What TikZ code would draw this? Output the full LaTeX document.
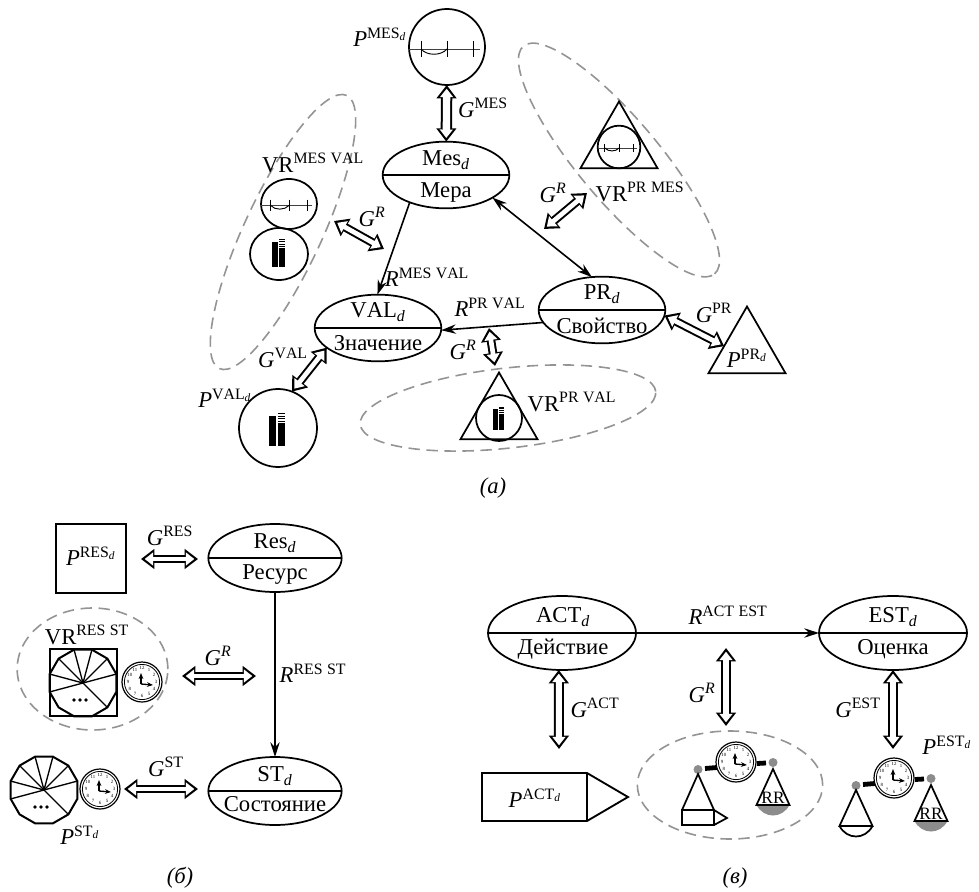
\documentclass[tikz,border=0pt]{standalone}
\usepackage{fontspec}
\setmainfont{Liberation Serif}
\usepackage{tikz}
\usetikzlibrary{arrows.meta}
\usetikzlibrary{shapes.geometric}

\tikzset{
  ent/.style = {draw, line width=1.3pt, inner sep=0, outer sep=0},
  ell/.style = {ent, ellipse, minimum width=95pt, minimum height=50pt},
  vague/.style = {draw=black!42, line width=1.2pt, dash pattern=on 8.5pt off 5pt, ellipse, inner sep=0, outer sep=0},
  tri/.style = {ent, regular polygon, regular polygon sides=3, minimum size=66.75pt},
  txt/.style = {inner sep=0, font=\fontsize{17}{20}\selectfont},
  rel/.style = {line width=1.2pt, -{Stealth[length=11pt,width=7pt]}},
  relboth/.style = {line width=1.2pt, {Stealth[length=11pt,width=7pt]}-{Stealth[length=11pt,width=7pt]}},
  garrow/.style = {white, line width=#1-3pt, shorten >=2.8pt, shorten <=2.8pt,
    {Triangle[length=6.3pt,width=9.5pt]}-{Triangle[length=6.3pt,width=9.5pt]},
    preaction={draw=black, line width=#1, shorten >=0pt, shorten <=0pt,
      {Triangle[length=10pt,width=14.5pt]}-{Triangle[length=10pt,width=14.5pt]}}},
  garrow/.default = 6.5pt,
  rulerbar/.pic = {
    \draw[line width=.7pt, black!75] (-39,2) -- (33,2);
    \foreach \t in {-26,0,26} {\draw[line width=.7pt] (\t,-6) -- (\t,10);}
    \draw[line width=.7pt] (-26,2) .. controls (-20,9) and (-6,9) .. (0,2);
  },
  bookpair/.pic = {
    \fill (-8.7,-12) rectangle (-1.7,18);
    \fill (0,-5) rectangle (7.3,18);
    \foreach \t in {-15,-12.5,-10,-7.5} {\fill (0,\t) rectangle (7.3,\t+1.3);}
  },
  polydial/.pic = {
    \draw[line width=1.5pt] (15:34.5) \foreach \a in {45,75,...,345} {-- (\a:34.5)} -- cycle;
    \foreach \a in {-15,-45,-75,-105,-135,-165,-195,45} {\draw[line width=1pt] (0,0) -- (\a:34.5);}
    \foreach \t in {-6,0,6} {\fill (\t-3,17) circle[radius=1.8];}
  },
  clockface/.pic = {
    \draw[fill=white, line width=.9pt] (0,0) circle[radius=20];
    \draw[line width=.6pt] (0,0) circle[radius=17.6];
    \foreach \i in {1,...,12} {
      \pgfmathsetmacro{\ang}{30*\i-90}
      \node[inner sep=0, font=\fontsize{3.6}{4}\selectfont] (-n\i) at (\ang:14) {\i};
    }
    \draw[line width=1pt, -{Stealth[length=4.5pt,width=3.5pt]}] (-1,2) -- (-1,-9);
    \draw[line width=1pt, -{Stealth[length=4.5pt,width=3.5pt]}] (-1,2) -- (11,3);
  },
  balance/.pic = {
    \draw[line width=3.6pt] (-31,6.5) -- (-19,5.5);
    \draw[line width=3.6pt] (21,1.5) -- (30,1);
    \fill[black!45] (-38,7.5) circle[radius=4.5];
    \fill[black!45] (37,0.5) circle[radius=4.5];
    \pic (-dial) at (0,0) {clockface};
  },
  fullpan/.pic = {
    \fill[black!45] (-16.5,36) .. controls (-9,50) and (9,50) .. (16.5,36) -- cycle;
    \draw[line width=1.3pt] (-16.5,36) -- (0,0) -- (16.5,36) -- cycle;
    \node[inner sep=0, font=\fontsize{13}{15}\selectfont] (-rr) at (0,29) {RR};
  },
  emptypan/.pic = {
    \draw[line width=1.3pt] (-16.5,36) -- (0,0) -- (16.5,36) -- cycle;
    \draw[line width=1.3pt] (-16.5,36) .. controls (-9,50) and (9,50) .. (16.5,36);
  },
}

\begin{document}
\begin{tikzpicture}[x=0.75pt, y=-0.75pt]
  \useasboundingbox (0,0) rectangle (979,892);

  % draw the dashed groups
  \node[vague, rotate=65, minimum width=226pt, minimum height=58pt] (vr_mes_val) at (283,232) {};
  \node[vague, rotate=-50, minimum width=223pt, minimum height=61pt] (vr_pr_mes) at (619,160) {};
  \node[vague, rotate=6.4, minimum width=223pt, minimum height=60pt] (vr_pr_val) at (508,408) {};
  \node[vague, minimum width=113pt, minimum height=91.5pt] (vr_res_st) at (92.5,669) {};
  \node[vague, minimum width=139pt, minimum height=81pt] (vr_act_est) at (730,785) {};

  % draw the entities of (a)
  \node[ell] (mes) at (446,175) {};
  \draw[line width=.8pt] (mes.west) -- (mes.east);
  \node[txt] (mes_top) at (446,160) {$\mathrm{Mes}_{\mathit{d}}$};
  \node[txt] (mes_bot) at (446,192) {Мера};

  \node[ell] (val) at (378,328) {};
  \draw[line width=.8pt] (val.west) -- (val.east);
  \node[txt] (val_top) at (378,312) {$\mathrm{VAL}_{\mathit{d}}$};
  \node[txt] (val_bot) at (378,343) {Значение};

  \node[ell] (pr) at (602,310) {};
  \draw[line width=.8pt] (pr.west) -- (pr.east);
  \node[txt] (pr_top) at (602,294) {$\mathrm{PR}_{\mathit{d}}$};
  \node[txt] (pr_bot) at (602,326) {Свойство};

  % draw the parts of (a)
  \node[ent, circle, minimum size=57pt] (p_mes) at (447,47) {};
  \pic (ruler_a) at (447,47) {rulerbar};
  \node[ent, circle, minimum size=58.5pt] (p_val) at (278,428) {};
  \pic (books_a) at (278,428) {bookpair};
  \node[tri] (p_pr) at (747,351) {};
  \node[ent, ellipse, minimum width=42pt, minimum height=37.5pt] (vr_mes) at (289,204) {};
  \pic[scale=.71] (ruler_b) at (289,204) {rulerbar};
  \node[ent, ellipse, minimum width=43.5pt, minimum height=39pt] (vr_val) at (279,254) {};
  \pic[scale=.85] (books_b) at (279,252) {bookpair};
  \node[tri] (tri_mes) at (619,146) {};
  \node[ent, circle, minimum size=32pt] (tri_mes_in) at (619,147) {};
  \pic[scale=.54] (ruler_c) at (619,147) {rulerbar};
  \node[tri] (tri_val) at (499,417) {};
  \node[ent, circle, minimum size=34.5pt] (tri_val_in) at (499,418) {};
  \pic[scale=.7] (books_c) at (499,417) {bookpair};

  % draw the arrows of (a)
  \draw[rel] (mes.217) -- (val.91);
  \draw[relboth] (mes.334) -- (pr.107);
  \draw[rel] (pr.192) -- (val.358);
  \draw[garrow=8.5pt] (p_mes) -- (mes);
  \draw[garrow] (val.201) -- (p_val.69);
  \draw[garrow] (pr.355) -- (p_pr.168);
  \coordinate (gr_left_a) at (334,221);
  \coordinate (gr_left_b) at (384,249);
  \draw[garrow] (gr_left_a) -- (gr_left_b);
  \coordinate (gr_right_a) at (587,193);
  \coordinate (gr_right_b) at (544,229);
  \draw[garrow] (gr_right_a) -- (gr_right_b);
  \coordinate (gr_low_a) at (489,328);
  \coordinate (gr_low_b) at (495,366);
  \draw[garrow] (gr_low_a) -- (gr_low_b);

  % draw the labels of (a)
  \node[txt] (lab_p_mes) at (380,37) {$\mathit{P}^{\mathrm{MES}_{\mathit{d}}}$};
  \node[txt] (lab_g_mes) at (483,108) {$\mathit{G}^{\mathrm{MES}}$};
  \node[txt] (lab_vr_mv) at (313,163) {$\mathrm{VR}^{\mathrm{MES\;VAL}}$};
  \node[txt] (lab_gr_l) at (372,217) {$\mathit{G}^{\mathit{R}}$};
  \node[txt] (lab_r_mv) at (427,277) {$\mathit{R}^{\mathrm{MES\;VAL}}$};
  \node[txt] (lab_r_pv) at (490,307) {$\mathit{R}^{\mathrm{PR\;VAL}}$};
  \node[txt] (lab_gr_d) at (463,350) {$\mathit{G}^{\mathit{R}}$};
  \node[txt] (lab_g_val) at (283,358) {$\mathit{G}^{\mathrm{VAL}}$};
  \node[txt] (lab_p_val) at (225,398) {$\mathit{P}^{\mathrm{VAL}_{\mathit{d}}}$};
  \node[txt] (lab_vr_pv) at (572,402) {$\mathrm{VR}^{\mathrm{PR\;VAL}}$};
  \node[txt] (lab_gr_r) at (553,193) {$\mathit{G}^{\mathit{R}}$};
  \node[txt] (lab_vr_pm) at (640,192) {$\mathrm{VR}^{\mathrm{PR\;MES}}$};
  \node[txt] (lab_g_pr) at (714,313) {$\mathit{G}^{\mathrm{PR}}$};
  \node[txt] (lab_p_pr) at (747,358) {$\mathit{P}^{\mathrm{PR}_{\mathit{d}}}$};
  \node[txt] (cap_a) at (493,488) {\textit{(а)}};

  % draw (б)
  \node[ell, minimum width=100pt, minimum height=51pt] (res) at (275,558) {};
  \draw[line width=.8pt] (res.west) -- (res.east);
  \node[txt] (res_top) at (275,543) {$\mathrm{Res}_{\mathit{d}}$};
  \node[txt] (res_bot) at (275,575) {Ресурс};
  \node[ell, minimum width=100pt, minimum height=51pt] (st) at (275,791) {};
  \draw[line width=.8pt] (st.west) -- (st.east);
  \node[txt] (st_top) at (275,776) {$\mathrm{ST}_{\mathit{d}}$};
  \node[txt] (st_bot) at (275,804) {Состояние};

  \node[ent, minimum size=52pt] (p_res) at (91,558.5) {};
  \node[txt] (lab_p_res) at (91,556) {$\mathit{P}^{\mathrm{RES}_{\mathit{d}}}$};
  \node[ent, minimum size=50pt] (square_st) at (83.5,682.5) {};
  \pic (poly_a) at (83,683) {polydial};
  \pic (clock_a) at (142,682) {clockface};
  \pic (poly_b) at (44,790) {polydial};
  \pic (clock_b) at (100,789) {clockface};

  \draw[rel] (res.south) -- (st.north);
  \coordinate (gres_a) at (141,559);
  \coordinate (gres_b) at (198,559);
  \draw[garrow] (gres_a) -- (gres_b);
  \coordinate (grb_a) at (182,676);
  \coordinate (grb_b) at (256,676);
  \draw[garrow] (grb_a) -- (grb_b);
  \coordinate (gst_a) at (124,789);
  \coordinate (gst_b) at (198,789);
  \draw[garrow] (gst_a) -- (gst_b);

  \node[txt] (lab_g_res) at (170,536) {$\mathit{G}^{\mathrm{RES}}$};
  \node[txt] (lab_vr_rs) at (87,635) {$\mathrm{VR}^{\mathrm{RES\;ST}}$};
  \node[txt] (lab_gr_b) at (218,656) {$\mathit{G}^{\mathit{R}}$};
  \node[txt] (lab_r_rs) at (313,673) {$\mathit{R}^{\mathrm{RES\;ST}}$};
  \node[txt] (lab_g_st) at (166,767) {$\mathit{G}^{\mathrm{ST}}$};
  \node[txt] (lab_p_st) at (80,835) {$\mathit{P}^{\mathrm{ST}_{\mathit{d}}}$};
  \node[txt] (cap_b) at (180,878) {\textit{(б)}};

  % draw (в)
  \node[ell, minimum width=111pt, minimum height=55.5pt] (act) at (562,633) {};
  \draw[line width=.8pt] (act.west) -- (act.east);
  \node[txt] (act_top) at (563,617) {$\mathrm{ACT}_{\mathit{d}}$};
  \node[txt] (act_bot) at (563,649) {Действие};
  \node[ell, minimum width=111pt, minimum height=55.5pt] (est) at (893,633) {};
  \draw[line width=.8pt] (est.west) -- (est.east);
  \node[txt] (est_top) at (893,617) {$\mathrm{EST}_{\mathit{d}}$};
  \node[txt] (est_bot) at (893,649) {Оценка};

  \draw[line width=1.4pt] (482,773) -- (587,773) -- (628,797) -- (587,821) -- (482,821) -- cycle;
  \draw[line width=1.4pt] (587,773) -- (587,821);
  \node[txt] (lab_p_act) at (535,798) {$\mathit{P}^{\mathrm{ACT}_{\mathit{d}}}$};

  \pic (bal_a) at (736,762) {balance};
  \pic (pan_b) at (773,769) {fullpan};
  \draw[line width=1.3pt] (682,810) -- (698,774) -- (714,810);
  \draw[line width=1.3pt] (682,810) rectangle (714,825);
  \draw[line width=1.3pt] (714,810) -- (727,818) -- (714,825);

  \pic (bal_b) at (894,778) {balance};
  \pic (pan_c) at (856,790) {emptypan};
  \pic (pan_d) at (931,785) {fullpan};

  \draw[rel] (act.east) -- (est.west);
  \coordinate (gact_b) at (559,749);
  \draw[garrow=7.5pt] (act.265) -- (gact_b);
  \coordinate (gest_b) at (893,749);
  \draw[garrow=7.5pt] (est.south) -- (gest_b);
  \coordinate (grv_a) at (726,648);
  \coordinate (grv_b) at (726,726);
  \draw[garrow=7.5pt] (grv_a) -- (grv_b);

  \node[txt] (lab_r_ae) at (728,615) {$\mathit{R}^{\mathrm{ACT\;EST}}$};
  \node[txt] (lab_g_act) at (595,708) {$\mathit{G}^{\mathrm{ACT}}$};
  \node[txt] (lab_gr_v) at (702,693) {$\mathit{G}^{\mathit{R}}$};
  \node[txt] (lab_g_est) at (858,708) {$\mathit{G}^{\mathrm{EST}}$};
  \node[txt] (lab_p_est) at (947,745) {$\mathit{P}^{\mathrm{EST}_{\mathit{d}}}$};
  \node[txt] (cap_v) at (735,878) {\textit{(в)}};

\end{tikzpicture}
\end{document}
